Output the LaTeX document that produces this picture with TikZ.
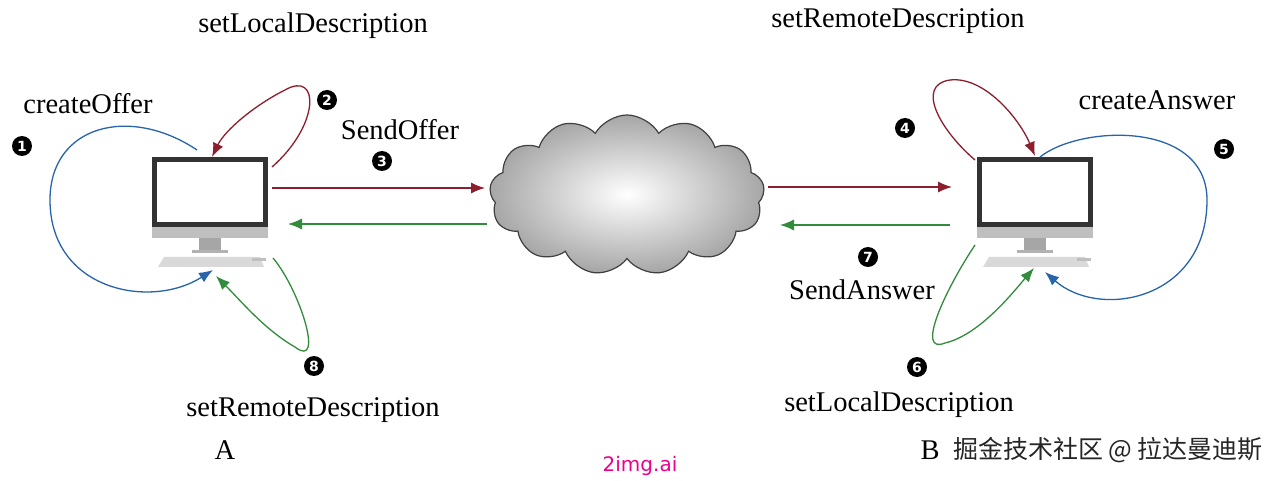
\documentclass[tikz,border=0pt]{standalone}
\usepackage{fontspec}
\setmainfont{Liberation Serif}
\newfontfamily\cjk{Noto Sans CJK SC}
\newfontfamily\sansf{DejaVu Sans}
\usetikzlibrary{shapes.symbols,arrows.meta}
\definecolor{dred}{RGB}{140,30,45}
\definecolor{dgreen}{RGB}{50,140,60}
\definecolor{dblue}{RGB}{40,100,170}
\begin{document}
\begin{tikzpicture}[x=1pt,y=-1pt,
 lbl/.style={font=\fontsize{28.5}{30}\selectfont},
 num/.style={circle,fill=black,inner sep=0pt,minimum size=20pt,text=white,font=\sansf\bfseries\fontsize{14}{14}\selectfont},
 arr/.style={line width=1.3pt,-{Latex[length=14pt,width=11pt]}}]
\useasboundingbox (0,0) rectangle (1280,481);
\fill[white] (0,0) rectangle (1280,481);
\newcommand{\monitor}[2]{%
 \begin{scope}[shift={(#1,#2)}]
  \fill[black!80] (0,0) rectangle (116,70);
  \fill[white] (5,5) rectangle (111,65);
  \fill[black!25] (0,70) rectangle (116,81);
  \fill[black!35] (47,81) rectangle (69,93);
  \fill[black!30] (40,93) rectangle (76,96);
  \fill[black!15] (12,100) -- (108,100) -- (112,110) -- (6,110) -- cycle;
  \fill[black!25] (100,101) rectangle (114,104);
 \end{scope}}
\monitor{152}{157}
\monitor{977}{157}
\node[cloud,cloud puffs=13,cloud puff arc=120,aspect=1.7,minimum width=275pt,minimum height=160pt,draw=black!75,line width=1.2pt,inner color=white,outer color=black!35] (cloud) at (627,195) {};
\coordinate (a1s) at (197,150); \coordinate (a1e) at (213,270);
\coordinate (a2s) at (272,167); \coordinate (a2e) at (212,157);
\coordinate (a3s) at (272,188); \coordinate (a3e) at (485,188);
\coordinate (g3s) at (487,224); \coordinate (g3e) at (288,224);
\coordinate (a8s) at (273,258); \coordinate (a8e) at (216,276);
\coordinate (b3s) at (768,187); \coordinate (b3e) at (952,187);
\coordinate (h3s) at (950,225); \coordinate (h3e) at (780,225);
\coordinate (a4s) at (975,160); \coordinate (a4e) at (1035,156);
\coordinate (a5s) at (1040,157); \coordinate (a5e) at (1045,272);
\coordinate (a6s) at (975,245); \coordinate (a6e) at (1034,268);
\draw[arr,dblue] (a1s) .. controls (130,105) and (50,125) .. (50,200) .. controls (50,290) and (150,310) .. (a1e);
\draw[arr,dred] (a2s) .. controls (320,125) and (320,70) .. (285,90) .. controls (255,105) and (225,130) .. (a2e);
\draw[arr,dred] (a3s) -- (a3e);
\draw[arr,dgreen] (g3s) -- (g3e);
\draw[arr,dgreen] (a8s) .. controls (300,290) and (325,370) .. (295,347) .. controls (265,330) and (240,300) .. (a8e);
\draw[arr,dred] (b3s) -- (b3e);
\draw[arr,dgreen] (h3s) -- (h3e);
\draw[arr,dred] (a4s) .. controls (940,130) and (915,85) .. (950,80) .. controls (985,76) and (1020,120) .. (a4e);
\draw[arr,dblue] (a5s) .. controls (1080,125) and (1207,120) .. (1207,200) .. controls (1207,300) and (1100,320) .. (a5e);
\draw[arr,dgreen] (a6s) .. controls (945,290) and (915,355) .. (945,343) .. controls (980,335) and (1015,290) .. (a6e);
\node[lbl] (t1) at (313,26) {setLocalDescription};
\node[lbl] (t2) at (88,104) {createOffer};
\node[lbl] (t3) at (400,130) {SendOffer};
\node[lbl] (t4) at (898,21) {setRemoteDescription};
\node[lbl] (t5) at (1157,100) {createAnswer};
\node[lbl] (t6) at (862,290) {SendAnswer};
\node[lbl] (t7) at (899,405) {setLocalDescription};
\node[lbl] (t8) at (313,410) {setRemoteDescription};
\node[lbl] (tA) at (225,450) {A};
\node[lbl] (tB) at (930,450) {B};
\node[font=\cjk\fontsize{25}{27}\selectfont,text=black!85] (wm) at (1108,450) {掘金技术社区 @ 拉达曼迪斯};
\node[font=\sansf\fontsize{20}{22}\selectfont,text=magenta] (wm2) at (640,466) {2img.ai};
\node[num] (n1) at (22,146) {1};
\node[num] (n2) at (327,100) {2};
\node[num] (n3) at (382,161) {3};
\node[num] (n4) at (905,128) {4};
\node[num] (n5) at (1224,149) {5};
\node[num] (n6) at (917,367) {6};
\node[num] (n7) at (868,257) {7};
\node[num] (n8) at (314,366) {8};
\end{tikzpicture}
\end{document}
